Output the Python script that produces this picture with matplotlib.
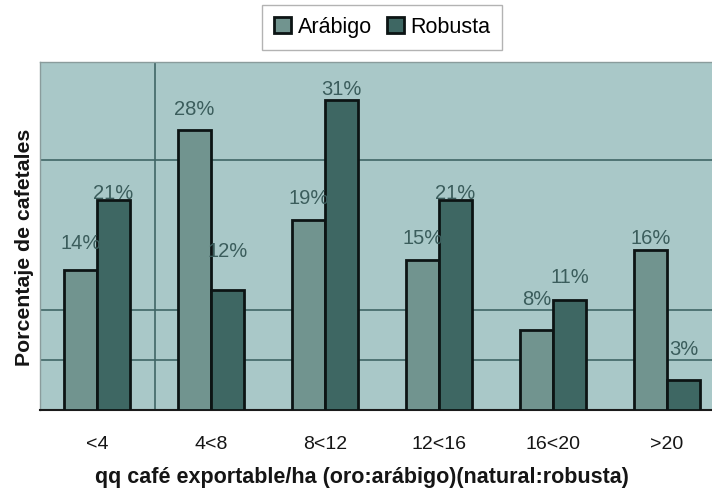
import matplotlib
matplotlib.use("Agg")
import matplotlib.pyplot as plt
import numpy as np

categories = ["<4", "4<8", "8<12", "12<16", "16<20", ">20"]
arabigo = [14, 28, 19, 15, 8, 16]
robusta = [21, 12, 31, 21, 11, 3]
series_names = ["Arábigo", "Robusta"]

# vertical offsets of the value labels, in points
arabigo_dy = [12, 7.5, 8.4, 8.5, 15.4, 1.5]
robusta_dy = [-2.5, 21, 0.5, -2, 9, 15]

plt.rcParams["font.family"] = ["Liberation Sans", "DejaVu Sans"]

fig = plt.figure(figsize=(7.12, 4.91), dpi=100)
ax = fig.add_axes([0.0562, 0.165, 0.944, 0.709])

bg = "#a9c8c8"
c_ara = "#71948f"
c_rob = "#3e6763"
txt_lbl = "#3b5d5c"

ax.set_facecolor(bg)
x = np.arange(len(categories))
w = 0.29

for yv in [5, 10, 25]:
    ax.axhline(yv, color="#406666", lw=1.2, zorder=1)
ax.axvline(0.51, color="#406666", lw=1.2, zorder=1)

b1 = ax.bar(x - w / 2, arabigo, w, color=c_ara, edgecolor="#0c1414", lw=2,
            label=series_names[0], zorder=3)
b2 = ax.bar(x + w / 2, robusta, w, color=c_rob, edgecolor="#0c1414", lw=2,
            label=series_names[1], zorder=3)

for rect, v, dy in zip(b1, arabigo, arabigo_dy):
    ax.annotate(f"{v}%", (rect.get_x() + rect.get_width() / 2, v),
                xytext=(0, dy), textcoords="offset points", ha="center",
                va="bottom", fontsize=14.5, color=txt_lbl, zorder=5)
for rect, v, dy in zip(b2, robusta, robusta_dy):
    ax.annotate(f"{v}%", (rect.get_x() + rect.get_width() / 2, v),
                xytext=(0, dy), textcoords="offset points", ha="center",
                va="bottom", fontsize=14.5, color=txt_lbl, zorder=5)

ax.set_xlim(-0.5, 5.395)
ax.set_ylim(0, 34.8)
ax.set_xticks(x)
ax.set_xticklabels(categories, fontsize=14, color="#151515")
ax.set_yticks([])
ax.tick_params(axis="x", length=0, pad=19)

for s in ["top", "left", "right"]:
    ax.spines[s].set_color("#8a9c9c")
    ax.spines[s].set_linewidth(1)
ax.spines["right"].set_visible(False)
ax.spines["bottom"].set_color("#1a1a1a")
ax.spines["bottom"].set_linewidth(1.5)

ax.set_xlabel("qq café exportable/ha (oro:arábigo)(natural:robusta)",
              fontsize=15.5, fontweight="bold", color="#151515")
ax.xaxis.set_label_coords(0.479, -0.163)
ax.set_ylabel("Porcentaje de cafetales", fontsize=15.3, fontweight="bold",
              color="#151515", labelpad=4)
ax.yaxis.label.set_y(0.468)

leg = fig.legend(handles=[b1, b2], loc="upper center",
                 bbox_to_anchor=(0.537, 1.012), ncol=2, frameon=True,
                 fontsize=15.5, handlelength=0.8, handleheight=0.8,
                 handletextpad=0.3, columnspacing=0.7, borderpad=0.55,
                 fancybox=False)
leg.get_frame().set_edgecolor("#a0a0a0")
leg.get_frame().set_linewidth(1)

fig.savefig("out.png", dpi=100, facecolor="white")
